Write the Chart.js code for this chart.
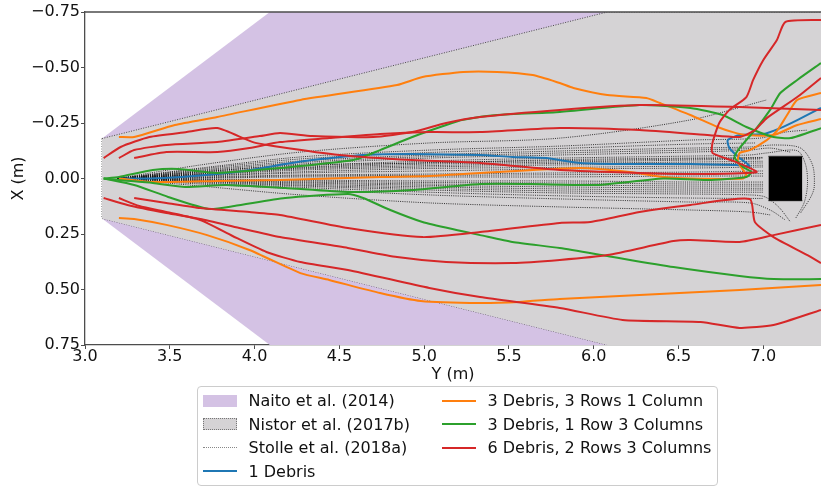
<!DOCTYPE html>
<html>
<head>
<meta charset="utf-8">
<script src="https://cdn.jsdelivr.net/npm/chart.js@4.4.1/dist/chart.umd.min.js"></script>
<style>
  html, body { margin: 0; padding: 0; background: #fff; }
  #wrap { position: relative; width: 821px; height: 489px; overflow: hidden; }
  #plot { position: absolute; left: 0; top: 0; }
  #legend {
    position: absolute; left: 197px; top: 386px; width: 519px; height: 98px;
    border: 1px solid #cccccc; border-radius: 4px; background: rgba(255,255,255,0.85);
    font-family: 'DejaVu Sans', sans-serif; font-size: 16px; color: #111;
  }
  .item { position: absolute; height: 24px; display: flex; align-items: center; white-space: nowrap; }
  .sw { width: 34px; margin-right: 11.5px; box-sizing: border-box; }
</style>
</head>
<body>
<div id="wrap">
  <div id="plot"><canvas id="c" width="821" height="489"></canvas></div>
  <div id="legend"></div>
</div>
<script>
// Horizontal axis: Y (m) along the flume; vertical axis: X (m) across it.
// Every pair below is [Y, X].

// Spreading envelopes
const naitoAlong = [3.1, 4.09, 7.34];
const naitoUpper = [-0.18, -0.75, -0.75];
const naitoLower = [0.18, 0.75, 0.75];
const nistorAlong = [3.1, 6.08, 7.34];
const nistorUpper = [-0.18, -0.75, -0.75];
const nistorLower = [0.18, 0.75, 0.75];
const nistorMouth = [[3.1, -0.18], [3.1, 0.18]];

// Obstacle block
const obstacleAlong = [7.03, 7.23];
const obstacleFaces = [-0.10, 0.10];

// Stolle et al. (2018a) trajectories
const stolleRuns = [
  [[3.19,0],[3.68,-0.061],[4.27,-0.119],[5.03,-0.160],[5.80,-0.182],[6.57,-0.264],[7.02,-0.354]],
  [[3.19,0],[3.68,-0.047],[4.27,-0.097],[5.03,-0.128],[5.80,-0.146],[6.57,-0.173],[6.98,-0.182],[7.13,-0.209],[7.26,-0.218]],
  [[3.19,0],[3.68,-0.043],[4.27,-0.088],[5.03,-0.117],[5.80,-0.135],[6.57,-0.155],[6.95,-0.160]],
  [[3.19,0],[3.68,-0.038],[4.27,-0.079],[5.03,-0.106],[5.80,-0.124],[6.57,-0.137],[6.92,-0.142],[7.07,-0.151],[7.22,-0.137],[7.29,-0.061],[7.30,0.038],[7.28,0.083],[7.22,0.155]],
  [[3.19,0],[3.68,-0.034],[4.27,-0.072],[5.03,-0.099],[5.80,-0.115],[6.57,-0.128],[6.95,-0.135]],
  [[3.19,0],[3.68,-0.029],[4.27,-0.065],[5.03,-0.092],[5.80,-0.106],[6.57,-0.119],[6.92,-0.128],[7.04,-0.137],[7.16,-0.119]],
  [[3.19,0],[3.68,-0.025],[4.27,-0.056],[5.03,-0.079],[5.80,-0.092],[6.57,-0.101],[6.92,-0.106],[7.02,-0.115],[7.20,-0.125],[7.25,-0.06],[7.26,0.03],[7.24,0.11],[7.19,0.18]],
  [[3.19,0],[3.68,-0.022],[4.27,-0.050],[5.03,-0.072],[5.80,-0.080],[6.57,-0.088],[7.00,-0.092]],
  [[3.19,0],[3.68,-0.020],[4.27,-0.047],[5.03,-0.065],[5.80,-0.074],[6.57,-0.083],[6.98,-0.088]],
  [[3.19,0],[3.68,-0.030],[4.27,-0.060],[5.03,-0.070],[5.80,-0.085],[6.57,-0.092],[7.00,-0.095]],
  [[3.19,0],[3.68,-0.018],[4.27,-0.043],[5.03,-0.058],[5.80,-0.068],[6.57,-0.074],[7.00,-0.078]],
  [[3.19,0],[3.68,-0.016],[4.27,-0.038],[5.03,-0.052],[5.80,-0.061],[6.57,-0.065],[7.00,-0.070]],
  [[3.19,0],[3.68,-0.013],[4.27,-0.030],[5.03,-0.045],[5.80,-0.050],[6.57,-0.056],[7.00,-0.060]],
  [[3.19,0],[3.68,-0.011],[4.27,-0.025],[5.03,-0.034],[5.80,-0.043],[6.57,-0.047],[7.00,-0.052]],
  [[3.19,0],[3.68,-0.007],[4.27,-0.016],[5.03,-0.020],[5.80,-0.025],[6.57,-0.029],[7.00,-0.034]],
  [[3.19,0],[3.68,-0.004],[4.27,-0.012],[5.03,-0.014],[5.80,-0.017],[6.57,-0.020],[7.00,-0.022]],
  [[3.19,0],[3.68,-0.002],[4.27,-0.007],[5.03,-0.007],[5.80,-0.007],[6.57,-0.011],[7.00,-0.011]],
  [[3.19,0],[3.68,0.002],[4.27,0.007],[5.03,0.011],[5.80,0.011],[6.57,0.016],[7.00,0.016]],
  [[3.19,0],[3.68,0.004],[4.27,0.011],[5.03,0.018],[5.80,0.020],[6.57,0.025],[7.00,0.026]],
  [[3.19,0],[3.68,0.007],[4.27,0.016],[5.03,0.025],[5.80,0.029],[6.57,0.034],[7.00,0.034]],
  [[3.19,0],[3.68,0.009],[4.27,0.020],[5.03,0.031],[5.80,0.038],[6.57,0.043],[7.00,0.044]],
  [[3.19,0],[3.68,0.011],[4.27,0.025],[5.03,0.038],[5.80,0.047],[6.57,0.052],[7.00,0.052]],
  [[3.19,0],[3.68,0.013],[4.27,0.030],[5.03,0.045],[5.80,0.056],[6.57,0.061],[7.00,0.062]],
  [[3.19,0],[3.68,0.016],[4.27,0.034],[5.03,0.052],[5.80,0.065],[6.57,0.070],[6.92,0.074],[7.01,0.083],[7.09,0.128],[7.16,0.196]],
  [[3.19,0],[3.68,0.020],[4.27,0.040],[5.03,0.062],[5.80,0.078],[6.57,0.088],[7.00,0.090]],
  [[3.19,0],[3.68,0.025],[4.27,0.047],[5.03,0.074],[5.80,0.092],[6.57,0.106],[6.92,0.110],[7.04,0.142],[7.13,0.187]],
  [[3.19,0],[3.68,0.034],[4.27,0.074],[5.03,0.110],[5.80,0.128],[6.57,0.142],[6.92,0.151],[7.04,0.164]]
];

// 1 Debris
const oneDebris = [[3.20,0.00],[3.38,0.00],[3.57,-0.007],[3.78,-0.020],[3.98,-0.038],[4.18,-0.065],[4.34,-0.083],[4.64,-0.106],[4.93,-0.110],[5.33,-0.106],[5.52,-0.097],[5.72,-0.092],[5.92,-0.070],[6.21,-0.065],[6.57,-0.065],[6.84,-0.061],[6.92,-0.056],[6.86,-0.092],[6.80,-0.137],[6.79,-0.173],[6.86,-0.196],[7.00,-0.200],[7.10,-0.227],[7.20,-0.263],[7.34,-0.318]];

// 3 Debris, 3 Rows 1 Column
const rows3col1A = [[3.20,-0.187],[3.29,-0.187],[3.53,-0.241],[3.78,-0.277],[4.27,-0.354],[4.84,-0.421],[4.99,-0.457],[5.23,-0.480],[5.43,-0.480],[5.64,-0.466],[5.80,-0.430],[5.88,-0.408],[6.08,-0.376],[6.31,-0.363],[6.39,-0.340],[6.57,-0.286],[6.73,-0.232],[6.82,-0.209],[6.90,-0.196],[7.06,-0.196],[7.20,-0.241],[7.34,-0.268]];
const rows3col1B = [[3.20,0.00],[3.40,0.016],[3.78,0.011],[4.15,0.007],[4.74,-0.007],[5.03,-0.011],[5.43,-0.029],[5.92,-0.047],[6.21,-0.029],[6.41,-0.007],[6.57,0.00],[6.88,0.00],[6.90,-0.016],[6.85,-0.074],[6.86,-0.115],[6.92,-0.128],[7.02,-0.173],[7.08,-0.214],[7.14,-0.286],[7.20,-0.354],[7.34,-0.385]];
const rows3col1C = [[3.20,0.178],[3.29,0.182],[3.48,0.209],[3.72,0.255],[3.97,0.322],[4.27,0.426],[4.44,0.457],[4.74,0.516],[4.98,0.552],[5.33,0.561],[5.56,0.556],[5.80,0.543],[6.27,0.525],[6.86,0.502],[7.34,0.480]];

// 3 Debris, 1 Row 3 Columns
const row1col3A = [[3.11,0.00],[3.20,-0.007],[3.40,-0.038],[3.55,-0.043],[3.78,-0.025],[4.15,-0.047],[4.58,-0.083],[4.74,-0.128],[4.93,-0.187],[5.13,-0.241],[5.23,-0.264],[5.43,-0.286],[5.80,-0.300],[6.27,-0.331],[6.57,-0.318],[6.76,-0.286],[6.90,-0.232],[7.06,-0.187],[7.16,-0.182],[7.34,-0.227]];
const row1col3B = [[3.11,0.00],[3.20,0.007],[3.40,0.020],[3.59,0.038],[3.83,0.029],[4.18,0.043],[4.55,0.061],[4.93,0.052],[5.33,0.025],[5.63,0.025],[6.02,0.029],[6.41,0.00],[6.67,0.007],[6.90,-0.007],[6.93,-0.029],[6.88,-0.052],[6.83,-0.097],[6.86,-0.137],[6.96,-0.227],[7.04,-0.309],[7.10,-0.385],[7.20,-0.444],[7.34,-0.520]];
const row1col3C = [[3.11,0.00],[3.29,0.029],[3.49,0.083],[3.73,0.137],[3.88,0.124],[4.18,0.088],[4.55,0.070],[4.64,0.088],[4.80,0.142],[4.99,0.196],[5.19,0.232],[5.33,0.255],[5.52,0.286],[5.80,0.313],[6.08,0.349],[6.47,0.399],[6.86,0.439],[7.06,0.453],[7.34,0.453]];

// 6 Debris, 2 Rows 3 Columns
const rows2col3A = [[3.20,-0.092],[3.29,-0.128],[3.48,-0.151],[3.78,-0.164],[4.03,-0.191],[4.15,-0.205],[4.34,-0.191],[4.70,-0.187],[4.93,-0.209],[5.13,-0.250],[5.33,-0.277],[5.80,-0.309],[6.27,-0.331],[6.86,-0.322],[7.34,-0.309]];
const rows2col3B = [[3.29,-0.092],[3.48,-0.119],[3.78,-0.119],[3.97,-0.137],[4.15,-0.164],[4.44,-0.182],[4.74,-0.200],[5.03,-0.209],[5.33,-0.209],[5.80,-0.227],[6.27,-0.218],[6.67,-0.196],[6.86,-0.187],[6.95,-0.218],[7.02,-0.272],[7.20,-0.367],[7.34,-0.453]];
const rows2col3C = [[3.11,-0.092],[3.21,-0.142],[3.38,-0.187],[3.60,-0.209],[3.78,-0.227],[3.99,-0.164],[4.15,-0.142],[4.50,-0.106],[4.93,-0.083],[5.33,-0.070],[5.80,-0.038],[6.27,-0.025],[6.63,-0.020],[6.96,-0.029],[6.84,-0.074],[6.70,-0.115],[6.70,-0.160],[6.74,-0.250],[6.80,-0.309],[6.90,-0.367],[6.94,-0.444],[7.00,-0.534],[7.08,-0.624],[7.13,-0.705],[7.34,-0.714]];
const rows2col3D = [[3.29,0.088],[3.48,0.110],[3.68,0.133],[3.97,0.151],[4.15,0.164],[4.55,0.223],[4.99,0.264],[5.33,0.241],[5.80,0.200],[5.98,0.196],[6.27,0.151],[6.57,0.119],[6.92,0.092],[6.95,0.196],[7.06,0.264],[7.26,0.345],[7.34,0.381]];
const rows2col3E = [[3.11,0.088],[3.25,0.119],[3.48,0.155],[3.68,0.182],[3.91,0.223],[4.15,0.264],[4.55,0.313],[4.84,0.354],[5.13,0.376],[5.52,0.381],[5.80,0.367],[6.08,0.345],[6.47,0.282],[6.57,0.277],[6.86,0.286],[7.06,0.255],[7.34,0.209]];
const rows2col3F = [[3.20,0.088],[3.32,0.124],[3.48,0.151],[3.68,0.187],[3.87,0.259],[4.07,0.331],[4.27,0.376],[4.55,0.412],[5.03,0.493],[5.33,0.534],[5.80,0.583],[6.17,0.637],[6.63,0.646],[6.86,0.673],[7.06,0.660],[7.34,0.592]];

// Axis ticks
const alongTicks = [3.0, 3.5, 4.0, 4.5, 5.0, 5.5, 6.0, 6.5, 7.0];
const acrossTicks = [-0.75, -0.50, -0.25, 0.00, 0.25, 0.50, 0.75];

const COLORS = {
  naito: '#d4c2e4', nistor: '#d5d3d5', edge: 'rgba(50,50,50,0.85)', stolle: 'rgba(10,10,10,0.8)',
  blue: '#1f77b4', orange: '#ff7f0e', green: '#2ca02c', red: '#d62728'
};

const toPts = pairs => pairs.map(([y, x]) => ({ x: y, y: x }));
const zipPts = (al, ac) => al.map((v, i) => ({ x: v, y: ac[i] }));

const datasets = [];
datasets.push({ label: 'Naito et al. (2014)', data: zipPts(naitoAlong, naitoUpper), fill: '+1',
  backgroundColor: COLORS.naito, borderWidth: 0, order: 30, legendKind: 'box' });
datasets.push({ data: zipPts(naitoAlong, naitoLower), fill: false, borderWidth: 0, order: 30 });
datasets.push({ label: 'Nistor et al. (2017b)', data: zipPts(nistorAlong, nistorUpper), fill: '+1',
  backgroundColor: COLORS.nistor, borderColor: COLORS.edge, borderWidth: 1, borderDash: [1, 1.5],
  order: 29, legendKind: 'hatch' });
datasets.push({ data: zipPts(nistorAlong, nistorLower), fill: false, borderColor: COLORS.edge,
  borderWidth: 1, borderDash: [1, 1.5], order: 29 });
datasets.push({ data: toPts(nistorMouth), fill: false, borderColor: COLORS.edge,
  borderWidth: 1, borderDash: [1, 1.5], order: 29 });

stolleRuns.forEach((run, i) => {
  datasets.push({ label: i === 0 ? 'Stolle et al. (2018a)' : undefined, data: toPts(run), fill: false,
    borderColor: COLORS.stolle, borderWidth: 1, borderDash: [1, 1.2], tension: 0.3, order: 20,
    legendKind: i === 0 ? 'dots' : undefined });
});

const run = (label, pairs, color, order) => ({ label, data: toPts(pairs), fill: false,
  borderColor: color, borderWidth: 2, tension: 0.2, order, legendKind: label ? 'line' : undefined });

datasets.push(run('1 Debris', oneDebris, COLORS.blue, 6));
datasets.push(run('3 Debris, 3 Rows 1 Column', rows3col1A, COLORS.orange, 5));
datasets.push(run(undefined, rows3col1B, COLORS.orange, 5));
datasets.push(run(undefined, rows3col1C, COLORS.orange, 5));
datasets.push(run('3 Debris, 1 Row 3 Columns', row1col3A, COLORS.green, 4));
datasets.push(run(undefined, row1col3B, COLORS.green, 4));
datasets.push(run(undefined, row1col3C, COLORS.green, 4));
datasets.push(run('6 Debris, 2 Rows 3 Columns', rows2col3A, COLORS.red, 3));
[rows2col3B, rows2col3C, rows2col3D, rows2col3E, rows2col3F].forEach(p =>
  datasets.push(run(undefined, p, COLORS.red, 3)));

// obstacle block, filled between its two faces
datasets.push({ data: zipPts(obstacleAlong, [obstacleFaces[0], obstacleFaces[0]]), fill: '+1',
  backgroundColor: '#000', borderColor: '#333', borderWidth: 1, order: 1 });
datasets.push({ data: zipPts(obstacleAlong, [obstacleFaces[1], obstacleFaces[1]]), fill: false,
  borderColor: '#333', borderWidth: 1, order: 1 });

const FONT = { family: "'DejaVu Sans'", size: 16, lineHeight: 1.0 };
const SPINE = '#4d4d4d';

const topSpine = {
  id: 'topSpine',
  afterDraw(chart) {
    const { ctx, chartArea: a } = chart;
    ctx.save();
    ctx.strokeStyle = SPINE; ctx.lineWidth = 1.3;
    ctx.beginPath(); ctx.moveTo(a.left, a.top); ctx.lineTo(a.right + 1, a.top); ctx.stroke();
    ctx.restore();
  }
};

const chart = new Chart(document.getElementById('c'), {
  type: 'line',
  data: { datasets },
  options: {
    responsive: false,
    animation: false,
    layout: { padding: { top: 12, right: 0, bottom: 104.8, left: 0 } },
    elements: { point: { radius: 0, hoverRadius: 0 } },
    plugins: { legend: { display: false }, tooltip: { enabled: false } },
    scales: {
      x: {
        type: 'linear', min: 3.0, max: 7.34, z: 1,
        afterBuildTicks: s => { s.ticks = alongTicks.map(v => ({ value: v })); },
        ticks: { font: FONT, color: '#111', padding: 0, maxRotation: 0,
          callback: v => Number(v).toFixed(1) },
        grid: { display: true, drawOnChartArea: false, drawTicks: true, tickLength: 4, tickColor: SPINE },
        border: { display: true, color: SPINE, width: 1.3 },
        title: { display: true, text: 'Y (m)', color: '#111',
          font: { family: "'DejaVu Sans'", size: 16, lineHeight: 1.2 }, padding: { top: 0, bottom: 0 } }
      },
      y: {
        type: 'linear', min: -0.75, max: 0.75, reverse: true, z: 1,
        afterBuildTicks: s => { s.ticks = acrossTicks.map(v => ({ value: v })); },
        afterFit: s => { s.width = 85; },
        ticks: { font: FONT, color: '#111', padding: 1,
          callback: v => (v < -1e-9 ? '\u2212' : '') + Math.abs(v).toFixed(2) },
        grid: { display: true, drawOnChartArea: false, drawTicks: true, tickLength: 4, tickColor: SPINE },
        border: { display: true, color: SPINE, width: 1.3 },
        title: { display: true, text: 'X (m)', color: '#111',
          font: { family: "'DejaVu Sans'", size: 16, lineHeight: 1.2 }, padding: { top: 9.4, bottom: 0 } }
      }
    }
  },
  plugins: [topSpine]
});

// Legend in two columns, built from the labelled datasets
(function buildLegend() {
  const box = document.getElementById('legend');
  const labelled = chart.data.datasets.filter(d => d.label);
  const colA = labelled.filter(d => ['box', 'hatch', 'dots'].includes(d.legendKind) || d.label === '1 Debris');
  const colB = labelled.filter(d => !colA.includes(d));
  const rowCenters = [13.5, 37, 60.5, 84];
  const place = (list, left) => list.forEach((d, i) => {
    const item = document.createElement('div');
    item.className = 'item';
    item.style.left = left + 'px';
    item.style.top = (rowCenters[i] - 12) + 'px';
    const sw = document.createElement('span');
    sw.className = 'sw';
    if (d.legendKind === 'box') {
      sw.style.height = '12px'; sw.style.background = d.backgroundColor;
    } else if (d.legendKind === 'hatch') {
      sw.style.height = '12px'; sw.style.background = d.backgroundColor;
      sw.style.border = '1px dotted #777';
    } else if (d.legendKind === 'dots') {
      sw.style.height = '0'; sw.style.borderTop = '1px dotted #888';
    } else {
      sw.style.height = '0'; sw.style.borderTop = '2px solid ' + d.borderColor;
    }
    const tx = document.createElement('span');
    tx.textContent = d.label;
    item.appendChild(sw); item.appendChild(tx);
    box.appendChild(item);
  });
  place(colA, 5);
  place(colB, 244);
})();
</script>
</body>
</html>
